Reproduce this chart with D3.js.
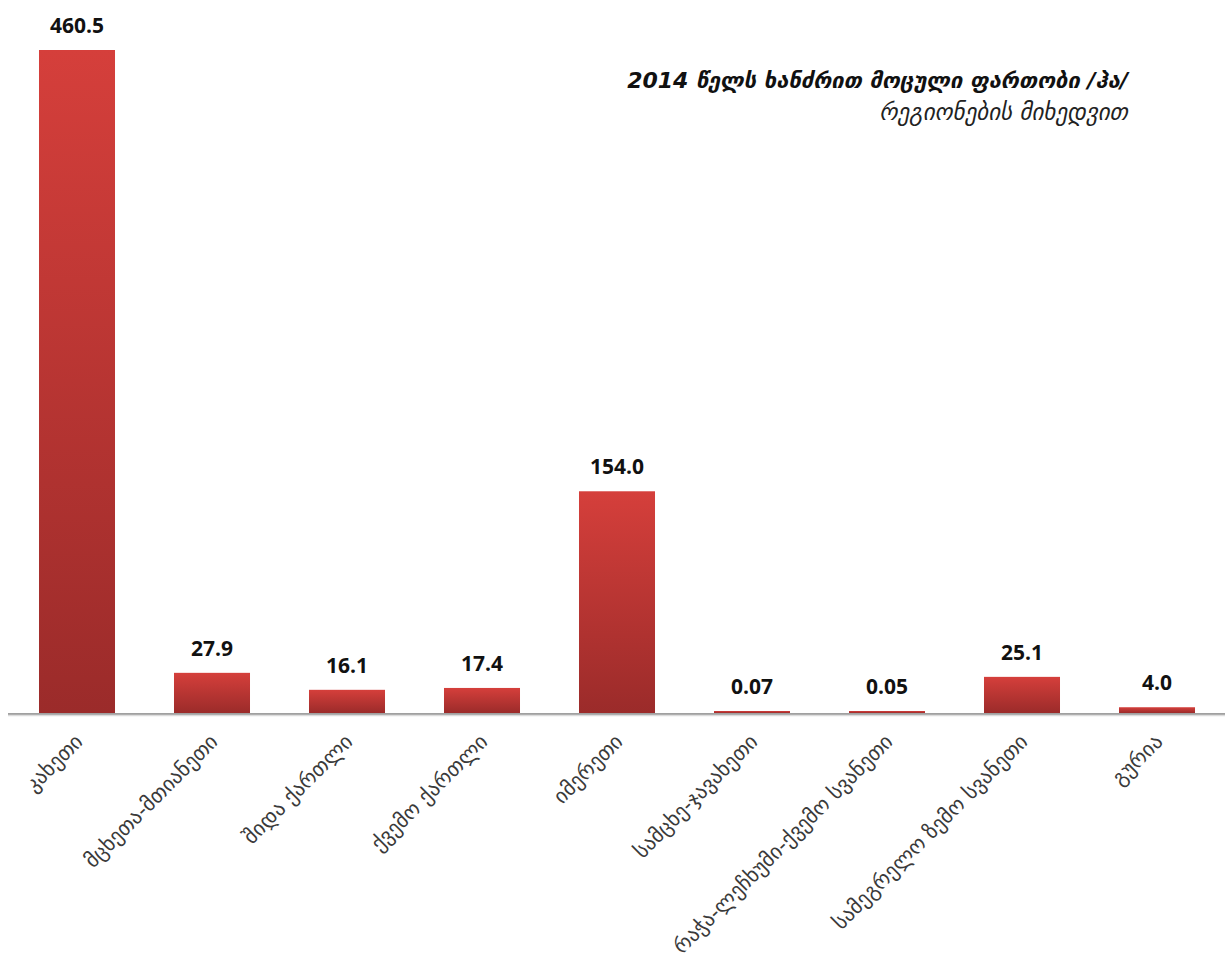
<!DOCTYPE html>
<html><head><meta charset="utf-8">
<script src="https://cdn.jsdelivr.net/npm/d3@7"></script>
<style>body{margin:0;background:#fff}</style>
</head><body>
<svg id="c" width="1225" height="958"></svg>
<script>
const categories = ["კახეთი","მცხეთა-მთიანეთი","შიდა ქართლი","ქვემო ქართლი","იმერეთი","სამცხე-ჯავახეთი","რაჭა-ლეჩხუმი-ქვემო სვანეთი","სამეგრელო ზემო სვანეთი","გურია"];
const values = [460.5, 27.9, 16.1, 17.4, 154.0, 0.07, 0.05, 25.1, 4.0];
const valueLabels = ["460.5","27.9","16.1","17.4","154.0","0.07","0.05","25.1","4.0"];
const titleLines = ["2014 წელს ხანძრით მოცული ფართობი /ჰა/","რეგიონების მიხედვით"];

const svg = d3.select("#c");
const axisY = 713;
const x = d3.scaleBand().domain(categories).range([9.5, 1224.5]).paddingInner(0.437).paddingOuter(0.2185);
const y = d3.scaleLinear().domain([0, 460.5]).range([axisY, 50]);

const defs = svg.append("defs");
const g = defs.append("linearGradient").attr("id","bg").attr("x1",0).attr("y1",0).attr("x2",0).attr("y2",1);
g.append("stop").attr("offset","0%").attr("stop-color","#d53f3b");
g.append("stop").attr("offset","100%").attr("stop-color","#9b2b2a");

svg.append("g").selectAll("rect").data(values).join("rect")
  .attr("x",(d,i)=>x(categories[i]))
  .attr("width",x.bandwidth())
  .attr("y",d=>Math.min(y(d), axisY-2))
  .attr("height",d=>Math.max(axisY-y(d),2))
  .attr("fill","url(#bg)");

// axis line
svg.append("line").attr("x1",8).attr("x2",1225).attr("y1",axisY+1).attr("y2",axisY+1)
  .attr("stroke","#a0a0a0").attr("stroke-width",2);
svg.append("line").attr("x1",8).attr("x2",1225).attr("y1",axisY+2.5).attr("y2",axisY+2.5)
  .attr("stroke","#dcdcdc").attr("stroke-width",1.5);

// value labels
svg.append("g").selectAll("text").data(values).join("text")
  .attr("x",(d,i)=>x(categories[i])+x.bandwidth()/2)
  .attr("y",d=>Math.min(y(d), axisY-2)-17)
  .attr("text-anchor","middle")
  .attr("font-family","'Open Sans', 'Liberation Sans', sans-serif")
  .attr("font-weight","bold").attr("font-size",21).attr("fill","#111")
  .text((d,i)=>valueLabels[i]);

// category labels
svg.append("g").selectAll("text").data(categories).join("text")
  .attr("transform",d=>`translate(${x(d)+x.bandwidth()/2+7},${axisY+30}) rotate(-45)`)
  .attr("text-anchor","end")
  .attr("font-family","'DejaVu Sans', sans-serif")
  .attr("font-size",21).attr("fill","#3a3a3a")
  .text(d=>d);

// title
svg.append("text").attr("x",1128).attr("y",88).attr("text-anchor","end")
  .attr("font-family","'DejaVu Sans', sans-serif").attr("font-style","italic").attr("font-weight","bold")
  .attr("font-size",22).attr("fill","#111").text(titleLines[0]);
svg.append("text").attr("x",1128).attr("y",120).attr("text-anchor","end")
  .attr("font-family","'DejaVu Sans', sans-serif").attr("font-style","italic")
  .attr("font-size",23).attr("fill","#222").text(titleLines[1]);
</script>
</body></html>
